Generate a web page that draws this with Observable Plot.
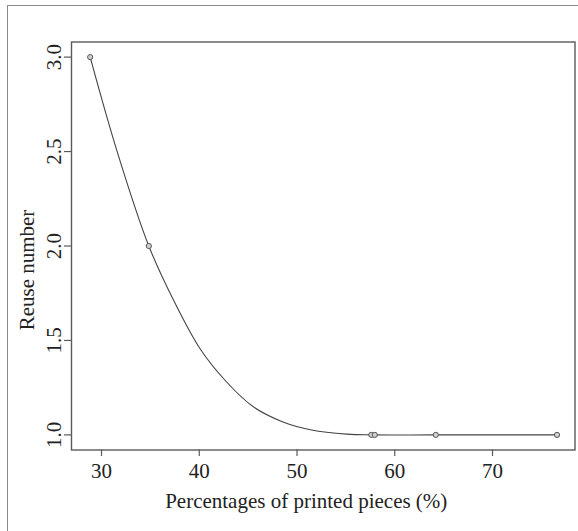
<!DOCTYPE html>
<html>
<head>
<meta charset="utf-8">
<script src="https://cdn.jsdelivr.net/npm/d3@7"></script>
<script src="https://cdn.jsdelivr.net/npm/@observablehq/plot@0.6"></script>
<style>
  html, body { margin: 0; padding: 0; background: #fff; }
  #wrap { position: relative; width: 578px; height: 531px; }
  #edge { position: absolute; left: 7px; top: 5px; right: 0; bottom: 0;
          border-left: 1.5px solid #8a8a8a; border-top: 1.5px solid #8a8a8a; pointer-events: none; }
  #chart { position: absolute; left: 0; top: 0; }
  #chart svg, #chart svg text { font-family: "Liberation Serif", "Times New Roman", serif !important; }
</style>
</head>
<body>
<div id="wrap"><div id="chart"></div><div id="edge"></div></div>
<script>
// Observed reuse counts against share of printed pieces
const pointX = [28.84, 34.84, 57.6, 57.96, 64.2, 76.6];
const pointY = [3.0, 2.0, 1.0, 1.0, 1.0, 1.0];

// Fitted trend line
const curveX = [28.84, 31.6, 34.84, 37.4, 40.1, 42.8, 45.5, 48.5, 51.5, 55.1, 57.6, 64.2, 76.6];
const curveY = [3.0, 2.5, 2.0, 1.71, 1.455, 1.28, 1.15, 1.07, 1.026, 1.004, 1.0, 1.0, 1.0];

const xTicks = [30, 40, 50, 60, 70];
const yTicks = [1.0, 1.5, 2.0, 2.5, 3.0];
const xTitle = "Percentages of printed pieces (%)";
const yTitle = "Reuse number";

const points = pointX.map((x, i) => ({x, y: pointY[i]}));
const curve = curveX.map((x, i) => ({x, y: curveY[i]}));

const font = "Liberation Serif";
const ink = "#222";
const gray = "#5a5a5a";
const fs = 21;

const chart = Plot.plot({
  width: 578,
  height: 531,
  marginLeft: 71,
  marginRight: 3.5,
  marginTop: 41.5,
  marginBottom: 81.5,
  style: {fontFamily: font, background: "transparent", color: ink},
  x: {domain: [26.93, 78.44]},
  y: {domain: [0.92, 3.08]},
  marks: [
    Plot.axisX({ticks: xTicks, tickSize: 6.5, tickFormat: () => "", stroke: gray, strokeWidth: 1.2, label: null}),
    Plot.axisY({ticks: yTicks, tickSize: 7, tickFormat: () => "", stroke: gray, strokeWidth: 1.2, label: null}),
    Plot.text(xTicks, {x: d => d, frameAnchor: "bottom", dy: 28, text: d => String(d),
      fontSize: fs, fontFamily: font, fill: ink}),
    Plot.text(yTicks, {y: d => d, frameAnchor: "left", dx: -17.3, rotate: -90,
      text: d => d.toFixed(1), fontSize: fs, fontFamily: font, fill: ink, textAnchor: "middle"}),
    Plot.text([xTitle], {frameAnchor: "bottom", dx: -17, dy: 58, fontSize: fs, fontFamily: font, fill: ink}),
    Plot.text([yTitle], {frameAnchor: "left", dx: -44.7, dy: 24, rotate: -90, textAnchor: "middle",
      fontSize: fs, fontFamily: font, fill: ink}),
    Plot.frame({stroke: gray, strokeWidth: 1.4}),
    Plot.line(curve, {x: "x", y: "y", curve: "catmull-rom", stroke: "#444", strokeWidth: 1.1}),
    Plot.dot(points, {x: "x", y: "y", r: 2.6, stroke: "#555", strokeWidth: 1, fill: "#d0d0d0"})
  ]
});
document.getElementById("chart").appendChild(chart);
</script>
</body>
</html>
